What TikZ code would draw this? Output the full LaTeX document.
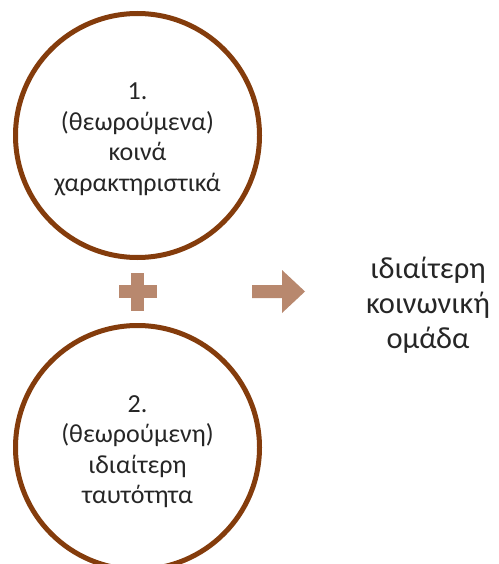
\documentclass[tikz,border=0pt]{standalone}
\usepackage{fontspec}
\setmainfont{Carlito}
\definecolor{ringbrown}{HTML}{843C0C}
\definecolor{signtan}{HTML}{B8886E}
\definecolor{inktext}{HTML}{262626}
\begin{document}
\begin{tikzpicture}[x=1pt,y=-1pt,
	ring/.style={circle,draw=ringbrown,line width=5pt,minimum size=244pt,inner sep=0pt},
	ringtext/.style={align=center,text=inktext,font=\fontsize{26}{30.5}\selectfont},
	resulttext/.style={align=center,text=inktext,font=\fontsize{30.5}{35}\selectfont}]
				\useasboundingbox (0,0) rectangle (498,564);
				\node[ring] (first) at (137.5,135.5) {};
				\node[ring] (second) at (137.5,447.5) {};
				\node[ringtext] (firsttext) at ([yshift=-4pt]first.center) {1.\\(θεωρούμενα)\\κοινά\\χαρακτηριστικά};
				\node[ringtext] (secondtext) at ([yshift=-4pt]second.center) {2.\\(θεωρούμενη)\\ιδιαίτερη\\ταυτότητα};
				\coordinate (plus) at (137.5,291.5);
				\fill[signtan] ([xshift=-19pt,yshift=6.5pt]plus) rectangle ([xshift=19pt,yshift=-6.5pt]plus);
				\fill[signtan] ([xshift=-6.5pt,yshift=19pt]plus) rectangle ([xshift=6.5pt,yshift=-19pt]plus);
				\fill[signtan] (252,285) -- (282,285) -- (282,270) -- (305,291.5) -- (282,313) -- (282,298) -- (252,298) -- cycle;
				\node[resulttext] (result) at (428,305) {ιδιαίτερη\\κοινωνική\\ομάδα};
			\end{tikzpicture}
\end{document}
